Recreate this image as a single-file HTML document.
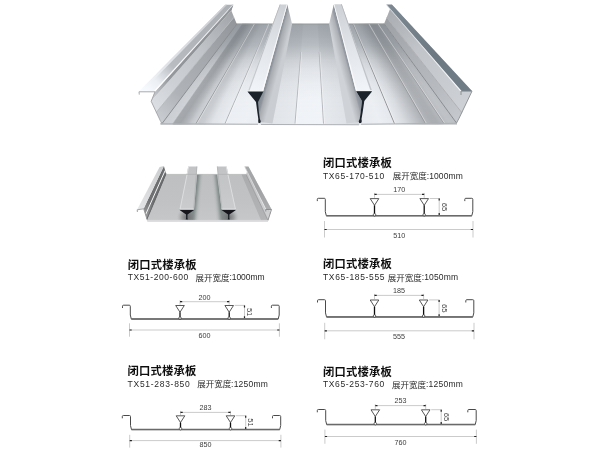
<!DOCTYPE html>
<html><head><meta charset="utf-8"><title>闭口式楼承板</title>
<style>
html,body{margin:0;padding:0;background:#fff;}
body{width:600px;height:450px;overflow:hidden;font-family:"Liberation Sans","Noto Sans CJK SC",sans-serif;}
svg{display:block;}
svg text{font-family:"Liberation Sans","Noto Sans CJK SC",sans-serif;}
</style></head><body>
<svg width="600" height="450" viewBox="0 0 600 450">
<rect width="600" height="450" fill="#fff"/>
<defs><linearGradient id="pan" x1="0" x2="1" y1="0" y2="0"><stop offset="0.0000" stop-color="#c9ccd0"/><stop offset="0.0404" stop-color="#cdd0d4"/><stop offset="0.0455" stop-color="#a3a6aa"/><stop offset="0.0673" stop-color="#a0a3a7"/><stop offset="0.0909" stop-color="#b3b6ba"/><stop offset="0.1044" stop-color="#c3c6ca"/><stop offset="0.1195" stop-color="#cdd0d4"/><stop offset="0.1246" stop-color="#c3c6ca"/><stop offset="0.1448" stop-color="#c8cbcf"/><stop offset="0.1751" stop-color="#dfe2e6"/><stop offset="0.2155" stop-color="#e7eaee"/><stop offset="0.2222" stop-color="#ebeef2"/><stop offset="0.2862" stop-color="#edf0f4"/><stop offset="0.3333" stop-color="#e9ecf0"/><stop offset="0.3401" stop-color="#dee1e5"/><stop offset="0.4512" stop-color="#e5e8ec"/><stop offset="0.4579" stop-color="#eff2f6"/><stop offset="0.5471" stop-color="#f0f3f7"/><stop offset="0.5545" stop-color="#e5e8ec"/><stop offset="0.6229" stop-color="#dfe2e6"/><stop offset="0.6700" stop-color="#d4d7db"/><stop offset="0.6768" stop-color="#e7eaee"/><stop offset="0.7407" stop-color="#ebeef2"/><stop offset="0.7845" stop-color="#e5e8ec"/><stop offset="0.7929" stop-color="#e4e7eb"/><stop offset="0.8249" stop-color="#d7dade"/><stop offset="0.8586" stop-color="#c1c4c8"/><stop offset="0.8906" stop-color="#adb0b4"/><stop offset="0.8973" stop-color="#b1b4b8"/><stop offset="0.9158" stop-color="#a9acb0"/><stop offset="0.9360" stop-color="#a9acb0"/><stop offset="0.9529" stop-color="#b1b4b8"/><stop offset="0.9579" stop-color="#b7babe"/><stop offset="0.9764" stop-color="#bdc0c4"/><stop offset="1.0000" stop-color="#bbbec2"/></linearGradient><linearGradient id="pdepth" gradientUnits="userSpaceOnUse" x1="0" y1="24" x2="0" y2="124"><stop offset="0.000" stop-color="#6b737b" stop-opacity="0.58"/><stop offset="0.100" stop-color="#6b737b" stop-opacity="0.52"/><stop offset="0.200" stop-color="#6b737b" stop-opacity="0.44"/><stop offset="0.280" stop-color="#6b737b" stop-opacity="0.32"/><stop offset="0.360" stop-color="#6b737b" stop-opacity="0.2"/><stop offset="0.460" stop-color="#6b737b" stop-opacity="0.11"/><stop offset="0.580" stop-color="#6b737b" stop-opacity="0.05"/><stop offset="0.760" stop-color="#6b737b" stop-opacity="0.0"/><stop offset="1.000" stop-color="#6b737b" stop-opacity="0.0"/></linearGradient><filter id="soft" x="-5%" y="-5%" width="110%" height="110%"><feGaussianBlur stdDeviation="0.5"/></filter><linearGradient id="rs1" gradientUnits="userSpaceOnUse" x1="270" y1="60" x2="281" y2="63"><stop offset="0" stop-color="#848a92"/><stop offset="0.28" stop-color="#90969e"/><stop offset="0.4" stop-color="#a7aaae"/><stop offset="1" stop-color="#cacdd1"/></linearGradient><linearGradient id="rs2" gradientUnits="userSpaceOnUse" x1="350" y1="60" x2="339" y2="63"><stop offset="0" stop-color="#888e96"/><stop offset="0.28" stop-color="#959ba3"/><stop offset="0.4" stop-color="#acafb3"/><stop offset="1" stop-color="#cfd2d6"/></linearGradient><linearGradient id="g1" gradientUnits="userSpaceOnUse" x1="255.5" y1="91.0" x2="283.6" y2="4.4"><stop offset="0" stop-color="#f1f4f8"/><stop offset="0.5" stop-color="#e1e4e8"/><stop offset="1" stop-color="#cdd0d4"/></linearGradient><linearGradient id="g2" gradientUnits="userSpaceOnUse" x1="248.7" y1="91.0" x2="280.1" y2="4.4"><stop offset="0" stop-color="#cacdd1"/><stop offset="1" stop-color="#b1b4b8"/></linearGradient><linearGradient id="g3" gradientUnits="userSpaceOnUse" x1="364.1" y1="90.6" x2="337.8" y2="4.2"><stop offset="0" stop-color="#f1f4f8"/><stop offset="0.5" stop-color="#e1e4e8"/><stop offset="1" stop-color="#cdd0d4"/></linearGradient><linearGradient id="g4" gradientUnits="userSpaceOnUse" x1="371.2" y1="90.6" x2="341.4" y2="4.2"><stop offset="0" stop-color="#c5c8cc"/><stop offset="1" stop-color="#b1b4b8"/></linearGradient><linearGradient id="g5" gradientUnits="userSpaceOnUse" x1="159.2" y1="117.9" x2="235.4" y2="20.7"><stop offset="0" stop-color="#c8cbcf"/><stop offset="0.25" stop-color="#afb2b6"/><stop offset="0.6" stop-color="#a5a8ac"/><stop offset="1" stop-color="#93969a"/></linearGradient><linearGradient id="g6" gradientUnits="userSpaceOnUse" x1="153.7" y1="106.8" x2="232.6" y2="13.9"><stop offset="0" stop-color="#dbdee2"/><stop offset="0.25" stop-color="#cdd0d4"/><stop offset="0.6" stop-color="#c1c4c8"/><stop offset="1" stop-color="#a2a5a9"/></linearGradient><linearGradient id="g7" gradientUnits="userSpaceOnUse" x1="153.0" y1="96.4" x2="232.3" y2="7.7"><stop offset="0" stop-color="#c5c8cc"/><stop offset="0.2" stop-color="#95989c"/><stop offset="0.6" stop-color="#8f9296"/><stop offset="1" stop-color="#93969a"/></linearGradient><linearGradient id="g8" gradientUnits="userSpaceOnUse" x1="147.0" y1="91.6" x2="229.3" y2="4.8"><stop offset="0" stop-color="#f7fafe"/><stop offset="0.12" stop-color="#ebeef2"/><stop offset="0.3" stop-color="#b9bcc0"/><stop offset="0.6" stop-color="#b1b4b8"/><stop offset="1" stop-color="#adb0b4"/></linearGradient><linearGradient id="g9" gradientUnits="userSpaceOnUse" x1="140.8" y1="91.6" x2="226.2" y2="4.8"><stop offset="0" stop-color="#f9fcff"/><stop offset="0.3" stop-color="#e1e4e8"/><stop offset="1" stop-color="#cacdd1"/></linearGradient><linearGradient id="g10" gradientUnits="userSpaceOnUse" x1="154.3" y1="91.6" x2="232.9" y2="4.8"><stop offset="0" stop-color="#ffffff"/><stop offset="1" stop-color="#e8ebef"/></linearGradient><linearGradient id="g11" gradientUnits="userSpaceOnUse" x1="459.1" y1="117.8" x2="385.4" y2="20.6"><stop offset="0" stop-color="#c5c8cc"/><stop offset="0.3" stop-color="#b7babe"/><stop offset="0.6" stop-color="#afb2b6"/><stop offset="1" stop-color="#9da0a4"/></linearGradient><linearGradient id="g12" gradientUnits="userSpaceOnUse" x1="466.9" y1="101.8" x2="389.2" y2="10.9"><stop offset="0" stop-color="#cdd0d4"/><stop offset="0.3" stop-color="#c7cace"/><stop offset="0.6" stop-color="#c1c4c8"/><stop offset="1" stop-color="#a9acb0"/></linearGradient><linearGradient id="g13" gradientUnits="userSpaceOnUse" x1="466.5" y1="91.0" x2="389.1" y2="4.4"><stop offset="0" stop-color="#707c86"/><stop offset="0.4" stop-color="#6c7882"/><stop offset="1" stop-color="#7c8892"/></linearGradient><linearGradient id="g14" gradientUnits="userSpaceOnUse" x1="460.8" y1="91.0" x2="386.2" y2="4.4"><stop offset="0" stop-color="#f8f9fa"/><stop offset="1" stop-color="#dee1e5"/></linearGradient></defs><g filter="url(#soft)"><rect x="235.80" y="23.45" width="148.50" height="1.6" fill="url(#pan)"/><rect x="235.04" y="24.45" width="149.98" height="1.6" fill="url(#pan)"/><rect x="234.28" y="25.44" width="151.47" height="1.6" fill="url(#pan)"/><rect x="233.53" y="26.44" width="152.95" height="1.6" fill="url(#pan)"/><rect x="232.77" y="27.43" width="154.44" height="1.6" fill="url(#pan)"/><rect x="232.01" y="28.43" width="155.92" height="1.6" fill="url(#pan)"/><rect x="231.25" y="29.43" width="157.41" height="1.6" fill="url(#pan)"/><rect x="230.49" y="30.42" width="158.90" height="1.6" fill="url(#pan)"/><rect x="229.74" y="31.42" width="160.38" height="1.6" fill="url(#pan)"/><rect x="228.98" y="32.41" width="161.87" height="1.6" fill="url(#pan)"/><rect x="228.22" y="33.41" width="163.35" height="1.6" fill="url(#pan)"/><rect x="227.46" y="34.41" width="164.84" height="1.6" fill="url(#pan)"/><rect x="226.70" y="35.40" width="166.32" height="1.6" fill="url(#pan)"/><rect x="225.95" y="36.40" width="167.81" height="1.6" fill="url(#pan)"/><rect x="225.19" y="37.39" width="169.29" height="1.6" fill="url(#pan)"/><rect x="224.43" y="38.39" width="170.77" height="1.6" fill="url(#pan)"/><rect x="223.67" y="39.39" width="172.26" height="1.6" fill="url(#pan)"/><rect x="222.91" y="40.38" width="173.74" height="1.6" fill="url(#pan)"/><rect x="222.16" y="41.38" width="175.23" height="1.6" fill="url(#pan)"/><rect x="221.40" y="42.37" width="176.72" height="1.6" fill="url(#pan)"/><rect x="220.64" y="43.37" width="178.20" height="1.6" fill="url(#pan)"/><rect x="219.88" y="44.37" width="179.69" height="1.6" fill="url(#pan)"/><rect x="219.12" y="45.36" width="181.17" height="1.6" fill="url(#pan)"/><rect x="218.37" y="46.36" width="182.66" height="1.6" fill="url(#pan)"/><rect x="217.61" y="47.35" width="184.14" height="1.6" fill="url(#pan)"/><rect x="216.85" y="48.35" width="185.62" height="1.6" fill="url(#pan)"/><rect x="216.09" y="49.35" width="187.11" height="1.6" fill="url(#pan)"/><rect x="215.33" y="50.34" width="188.60" height="1.6" fill="url(#pan)"/><rect x="214.58" y="51.34" width="190.08" height="1.6" fill="url(#pan)"/><rect x="213.82" y="52.33" width="191.57" height="1.6" fill="url(#pan)"/><rect x="213.06" y="53.33" width="193.05" height="1.6" fill="url(#pan)"/><rect x="212.30" y="54.33" width="194.53" height="1.6" fill="url(#pan)"/><rect x="211.54" y="55.32" width="196.02" height="1.6" fill="url(#pan)"/><rect x="210.79" y="56.32" width="197.50" height="1.6" fill="url(#pan)"/><rect x="210.03" y="57.31" width="198.99" height="1.6" fill="url(#pan)"/><rect x="209.27" y="58.31" width="200.47" height="1.6" fill="url(#pan)"/><rect x="208.51" y="59.31" width="201.96" height="1.6" fill="url(#pan)"/><rect x="207.75" y="60.30" width="203.44" height="1.6" fill="url(#pan)"/><rect x="207.00" y="61.30" width="204.93" height="1.6" fill="url(#pan)"/><rect x="206.24" y="62.29" width="206.42" height="1.6" fill="url(#pan)"/><rect x="205.48" y="63.29" width="207.90" height="1.6" fill="url(#pan)"/><rect x="204.72" y="64.29" width="209.39" height="1.6" fill="url(#pan)"/><rect x="203.96" y="65.28" width="210.87" height="1.6" fill="url(#pan)"/><rect x="203.21" y="66.28" width="212.36" height="1.6" fill="url(#pan)"/><rect x="202.45" y="67.27" width="213.84" height="1.6" fill="url(#pan)"/><rect x="201.69" y="68.27" width="215.32" height="1.6" fill="url(#pan)"/><rect x="200.93" y="69.27" width="216.81" height="1.6" fill="url(#pan)"/><rect x="200.17" y="70.26" width="218.29" height="1.6" fill="url(#pan)"/><rect x="199.42" y="71.26" width="219.78" height="1.6" fill="url(#pan)"/><rect x="198.66" y="72.25" width="221.26" height="1.6" fill="url(#pan)"/><rect x="197.90" y="73.25" width="222.75" height="1.6" fill="url(#pan)"/><rect x="197.14" y="74.25" width="224.24" height="1.6" fill="url(#pan)"/><rect x="196.38" y="75.24" width="225.72" height="1.6" fill="url(#pan)"/><rect x="195.63" y="76.24" width="227.20" height="1.6" fill="url(#pan)"/><rect x="194.87" y="77.23" width="228.69" height="1.6" fill="url(#pan)"/><rect x="194.11" y="78.23" width="230.18" height="1.6" fill="url(#pan)"/><rect x="193.35" y="79.23" width="231.66" height="1.6" fill="url(#pan)"/><rect x="192.59" y="80.22" width="233.15" height="1.6" fill="url(#pan)"/><rect x="191.84" y="81.22" width="234.63" height="1.6" fill="url(#pan)"/><rect x="191.08" y="82.21" width="236.11" height="1.6" fill="url(#pan)"/><rect x="190.32" y="83.21" width="237.60" height="1.6" fill="url(#pan)"/><rect x="189.56" y="84.21" width="239.08" height="1.6" fill="url(#pan)"/><rect x="188.80" y="85.20" width="240.57" height="1.6" fill="url(#pan)"/><rect x="188.05" y="86.20" width="242.05" height="1.6" fill="url(#pan)"/><rect x="187.29" y="87.19" width="243.54" height="1.6" fill="url(#pan)"/><rect x="186.53" y="88.19" width="245.03" height="1.6" fill="url(#pan)"/><rect x="185.77" y="89.19" width="246.51" height="1.6" fill="url(#pan)"/><rect x="185.01" y="90.18" width="248.00" height="1.6" fill="url(#pan)"/><rect x="184.26" y="91.18" width="249.48" height="1.6" fill="url(#pan)"/><rect x="183.50" y="92.17" width="250.97" height="1.6" fill="url(#pan)"/><rect x="182.74" y="93.17" width="252.45" height="1.6" fill="url(#pan)"/><rect x="181.98" y="94.17" width="253.94" height="1.6" fill="url(#pan)"/><rect x="181.22" y="95.16" width="255.42" height="1.6" fill="url(#pan)"/><rect x="180.47" y="96.16" width="256.90" height="1.6" fill="url(#pan)"/><rect x="179.71" y="97.15" width="258.39" height="1.6" fill="url(#pan)"/><rect x="178.95" y="98.15" width="259.88" height="1.6" fill="url(#pan)"/><rect x="178.19" y="99.15" width="261.36" height="1.6" fill="url(#pan)"/><rect x="177.43" y="100.14" width="262.85" height="1.6" fill="url(#pan)"/><rect x="176.68" y="101.14" width="264.33" height="1.6" fill="url(#pan)"/><rect x="175.92" y="102.13" width="265.81" height="1.6" fill="url(#pan)"/><rect x="175.16" y="103.13" width="267.30" height="1.6" fill="url(#pan)"/><rect x="174.40" y="104.13" width="268.78" height="1.6" fill="url(#pan)"/><rect x="173.64" y="105.12" width="270.27" height="1.6" fill="url(#pan)"/><rect x="172.89" y="106.12" width="271.75" height="1.6" fill="url(#pan)"/><rect x="172.13" y="107.11" width="273.24" height="1.6" fill="url(#pan)"/><rect x="171.37" y="108.11" width="274.73" height="1.6" fill="url(#pan)"/><rect x="170.61" y="109.11" width="276.21" height="1.6" fill="url(#pan)"/><rect x="169.85" y="110.10" width="277.69" height="1.6" fill="url(#pan)"/><rect x="169.10" y="111.10" width="279.18" height="1.6" fill="url(#pan)"/><rect x="168.34" y="112.09" width="280.66" height="1.6" fill="url(#pan)"/><rect x="167.58" y="113.09" width="282.15" height="1.6" fill="url(#pan)"/><rect x="166.82" y="114.09" width="283.63" height="1.6" fill="url(#pan)"/><rect x="166.06" y="115.08" width="285.12" height="1.6" fill="url(#pan)"/><rect x="165.31" y="116.08" width="286.61" height="1.6" fill="url(#pan)"/><rect x="164.55" y="117.07" width="288.09" height="1.6" fill="url(#pan)"/><rect x="163.79" y="118.07" width="289.58" height="1.6" fill="url(#pan)"/><rect x="163.03" y="119.07" width="291.06" height="1.6" fill="url(#pan)"/><rect x="162.27" y="120.06" width="292.55" height="1.6" fill="url(#pan)"/><rect x="161.52" y="121.06" width="294.03" height="1.6" fill="url(#pan)"/><rect x="160.76" y="122.05" width="295.52" height="1.6" fill="url(#pan)"/><rect x="160.00" y="123.05" width="297.00" height="1.6" fill="url(#pan)"/><polygon points="160.0,124.6 457.0,124.6 384.3,24.1 235.8,24.1" fill="url(#pdepth)"/><path d="M235.8,24.0 L384.3,24.0" stroke="#93969a" stroke-width="0.9"/><path d="M196.0,123.6 L253.8,24.1" stroke="#93969a" stroke-width="0.9" stroke-opacity="1" fill="none"/><path d="M197.0,123.6 L254.3,24.1" stroke="#ffffff" stroke-width="0.7" stroke-opacity="0.55" fill="none"/><path d="M225.0,123.6 L268.3,24.1" stroke="#a2a5a9" stroke-width="0.8" stroke-opacity="1" fill="none"/><path d="M226.0,123.6 L268.8,24.1" stroke="#ffffff" stroke-width="0.7" stroke-opacity="0.55" fill="none"/><path d="M295.0,123.6 L301.0,51.9" stroke="#a7aaae" stroke-width="0.8" stroke-opacity="1" fill="none"/><path d="M296.0,123.6 L301.6,51.9" stroke="#ffffff" stroke-width="0.7" stroke-opacity="0.55" fill="none"/><path d="M323.5,123.6 L319.2,51.9" stroke="#a7aaae" stroke-width="0.8" stroke-opacity="1" fill="none"/><path d="M324.5,123.6 L319.9,51.9" stroke="#ffffff" stroke-width="0.7" stroke-opacity="0.55" fill="none"/><path d="M394.5,123.6 L353.1,24.1" stroke="#84878b" stroke-width="0.9" stroke-opacity="1" fill="none"/><path d="M395.5,123.6 L353.6,24.1" stroke="#ffffff" stroke-width="0.7" stroke-opacity="0.55" fill="none"/><path d="M425.5,123.6 L368.6,24.1" stroke="#93969a" stroke-width="0.9" stroke-opacity="1" fill="none"/><path d="M426.5,123.6 L369.1,24.1" stroke="#ffffff" stroke-width="0.7" stroke-opacity="0.55" fill="none"/><path d="M444.0,123.6 L377.8,24.1" stroke="#93969a" stroke-width="0.8" stroke-opacity="1" fill="none"/><path d="M445.0,123.6 L378.3,24.1" stroke="#ffffff" stroke-width="0.7" stroke-opacity="0.55" fill="none"/><polygon points="263.0,91.3 287.3,4.6 292.1,24.1 272.5,123.6 259.8,122.1 256.5,100.5" fill="url(#rs1)"/><polygon points="356.0,91.3 333.8,4.6 329.1,24.1 346.5,123.6 359.7,122.1 362.0,101.0" fill="url(#rs2)"/><polygon points="248.0,91.0 263.0,91.0 287.3,4.4 279.8,4.4" fill="url(#g1)"/><polygon points="248.0,91.0 249.4,91.0 280.5,4.4 279.8,4.4" fill="url(#g2)"/><polygon points="261.8,91.0 263.2,91.0 287.4,4.4 286.7,4.4" fill="#fbfbfc"/><polygon points="356.3,90.6 371.8,90.6 341.7,4.2 334.0,4.2" fill="url(#g3)"/><polygon points="370.4,90.6 372.0,90.6 341.8,4.2 341.0,4.2" fill="url(#g4)"/><polygon points="355.8,90.6 357.2,90.6 334.4,4.2 333.7,4.2" fill="#fbfbfc"/><polygon points="247.6,91.3 263.4,91.3 263.0,92.3 258.0,102.0 258.9,112.0 259.9,119.0 260.8,121.2 260.3,123.0 258.5,123.0 258.2,121.2 258.3,119.0 257.3,112.0 256.0,102.0 248.0,92.3" fill="#1a222a"/><polygon points="356.2,91.1 372.0,91.1 371.6,92.1 364.3,101.0 362.7,112.0 361.5,119.0 361.8,121.2 361.2,123.0 359.2,123.0 358.7,121.2 359.7,119.0 360.7,112.0 362.0,101.0 356.6,92.1" fill="#1a222a"/><path d="M247.6,90.9 L263.4,90.9" stroke="#f4f5f6" stroke-width="0.9"/><path d="M356.2,90.7 L372,90.7" stroke="#f4f5f6" stroke-width="0.9"/><polygon points="156.3,112.3 162.0,123.6 236.8,24.1 234.0,17.2" fill="url(#g5)"/><polygon points="151.0,101.3 156.3,112.3 234.0,17.2 231.3,10.6" fill="url(#g6)"/><path d="M156.3,112.3 L234.0,17.2" stroke="#afb2b6" stroke-width="0.8" stroke-opacity="1" fill="none"/><path d="M162.0,123.6 L236.8,24.1" stroke="#8b8e92" stroke-width="1.0" stroke-opacity="1" fill="none"/><polygon points="155.0,91.6 151.0,101.3 231.3,10.6 233.3,4.8" fill="url(#g7)"/><polygon points="225.8,5.4 233.3,4.8 231.3,10.6 228.3,11.6 226.8,8.8" fill="#8f9296"/><polygon points="139.0,91.6 155.0,91.6 233.3,4.8 225.3,4.8" fill="url(#g8)"/><polygon points="139.0,91.6 142.5,91.6 227.1,4.8 225.3,4.8" fill="url(#g9)"/><polygon points="153.4,91.6 155.2,91.6 233.4,4.8 232.5,4.8" fill="url(#g10)"/><path d="M139.3,94.6 L139,91.8 L155,91.8 L151.2,101.3 L160.6,121.3 L162,123.6" fill="none" stroke="#9fa2a6" stroke-width="0.9" stroke-linejoin="round"/><polygon points="461.8,112.6 456.5,123.0 384.1,23.7 386.7,17.4" fill="url(#g11)"/><polygon points="472.0,91.0 461.8,112.6 386.7,17.4 391.8,4.4" fill="url(#g12)"/><path d="M461.8,112.6 L386.7,17.4" stroke="#a9acb0" stroke-width="0.9" stroke-opacity="1" fill="none"/><path d="M456.5,123.0 L384.1,23.7" stroke="#898c90" stroke-width="1.0" stroke-opacity="1" fill="none"/><polygon points="461.0,91.0 472.0,91.0 391.8,4.4 386.3,4.4" fill="url(#g13)"/><polygon points="460.0,91.0 461.6,91.0 386.6,4.4 385.8,4.4" fill="url(#g14)"/><path d="M461,95 L461,91.2 L472,91.2 L459.2,118 L456.5,123.0" fill="none" stroke="#898c90" stroke-width="0.9" stroke-linejoin="round"/><path d="M161,123.89999999999999 L258,124.19999999999999 M261,124.5 L359,124.8 M361,124.19999999999999 L457,123.3" stroke="#adb0b4" stroke-width="1.1" fill="none"/></g><defs><linearGradient id="g15" gradientUnits="userSpaceOnUse" x1="207.7" y1="220.3" x2="206.2" y2="174.4"><stop offset="0" stop-color="#c6c7c9"/><stop offset="0.4" stop-color="#c1c2c4"/><stop offset="1" stop-color="#bebfc1"/></linearGradient><linearGradient id="g16" gradientUnits="userSpaceOnUse" x1="195.6" y1="191.8" x2="202.6" y2="192.6"><stop offset="0" stop-color="#7a8383"/><stop offset="0.25" stop-color="#939a9a"/><stop offset="0.6" stop-color="#b2b6b6" stop-opacity="0.7"/><stop offset="1" stop-color="#c1c2c4" stop-opacity="0"/></linearGradient><radialGradient id="g17" gradientUnits="userSpaceOnUse" cx="186.8" cy="217.3" r="10"><stop offset="0" stop-color="#68696b" stop-opacity="0.95"/><stop offset="0.5" stop-color="#818284" stop-opacity="0.6"/><stop offset="1" stop-color="#a9aaac" stop-opacity="0"/></radialGradient><linearGradient id="g18" gradientUnits="userSpaceOnUse" x1="0" y1="209.1" x2="0" y2="166.5"><stop offset="0" stop-color="#cbccce"/><stop offset="0.5" stop-color="#c5c6c8"/><stop offset="1" stop-color="#c2c3c5"/></linearGradient><linearGradient id="g19" gradientUnits="userSpaceOnUse" x1="219.3" y1="191.8" x2="212.3" y2="192.6"><stop offset="0" stop-color="#7a8383"/><stop offset="0.25" stop-color="#939a9a"/><stop offset="0.6" stop-color="#b2b6b6" stop-opacity="0.7"/><stop offset="1" stop-color="#c1c2c4" stop-opacity="0"/></linearGradient><radialGradient id="g20" gradientUnits="userSpaceOnUse" cx="228.8" cy="217.3" r="10"><stop offset="0" stop-color="#68696b" stop-opacity="0.95"/><stop offset="0.5" stop-color="#818284" stop-opacity="0.6"/><stop offset="1" stop-color="#a9aaac" stop-opacity="0"/></radialGradient><linearGradient id="g21" gradientUnits="userSpaceOnUse" x1="0" y1="209.1" x2="0" y2="166.5"><stop offset="0" stop-color="#cbccce"/><stop offset="0.5" stop-color="#c5c6c8"/><stop offset="1" stop-color="#c2c3c5"/></linearGradient><linearGradient id="g22" gradientUnits="userSpaceOnUse" x1="145.5" y1="214.4" x2="165.1" y2="170.3"><stop offset="0" stop-color="#959698"/><stop offset="0.3" stop-color="#6f7072"/><stop offset="1" stop-color="#6b6c6e"/></linearGradient><linearGradient id="g23" gradientUnits="userSpaceOnUse" x1="140.4" y1="209.1" x2="161.8" y2="166.5"><stop offset="0" stop-color="#e3e4e6"/><stop offset="0.5" stop-color="#d7d8da"/><stop offset="1" stop-color="#cdced0"/></linearGradient><linearGradient id="g24" gradientUnits="userSpaceOnUse" x1="264.5" y1="220.3" x2="243.8" y2="174.4"><stop offset="0" stop-color="#b3b4b6"/><stop offset="1" stop-color="#abacae"/></linearGradient><linearGradient id="g25" gradientUnits="userSpaceOnUse" x1="269.1" y1="216.9" x2="246.8" y2="172.0"><stop offset="0" stop-color="#cfd0d2"/><stop offset="1" stop-color="#c3c4c6"/></linearGradient><linearGradient id="g26" gradientUnits="userSpaceOnUse" x1="270.9" y1="211.4" x2="248.0" y2="168.1"><stop offset="0" stop-color="#d9dadc"/><stop offset="1" stop-color="#cdced0"/></linearGradient><linearGradient id="g27" gradientUnits="userSpaceOnUse" x1="268.6" y1="209.3" x2="246.5" y2="166.6"><stop offset="0" stop-color="#abacae"/><stop offset="0.5" stop-color="#a1a2a4"/><stop offset="1" stop-color="#a7a8aa"/></linearGradient><linearGradient id="g28" gradientUnits="userSpaceOnUse" x1="265.8" y1="209.3" x2="244.6" y2="166.6"><stop offset="0" stop-color="#e7e8ea"/><stop offset="1" stop-color="#d7d8da"/></linearGradient></defs><g filter="url(#soft)"><polygon points="147.3,220.3 268.0,220.3 246.1,174.4 166.3,174.4" fill="url(#g15)"/><polygon points="194.0,209.1 197.2,174.4 203.2,174.4 206.0,220.3 186.8,220.3 186.8,214.1" fill="url(#g16)"/><polygon points="177.6,210.1 196.0,210.1 201.0,220.3 172.6,220.3" fill="url(#g17)"/><polygon points="179.6,209.1 194.0,209.1 197.2,166.5 188.3,166.5" fill="url(#g18)"/><path d="M180.1,209.1 L188.70000000000002,166.5" stroke="#dddee0" stroke-width="1" fill="none"/><path d="M193.7,209.1 L196.89999999999998,166.5" stroke="#b1b2b4" stroke-width="0.8" fill="none"/><polygon points="179.6,209.6 194.0,209.6 193.7,210.3 187.5,214.4 187.4,218.1 187.9,219.5 185.7,219.5 186.2,218.1 186.1,214.4 179.9,210.3" fill="#14181c"/><path d="M179.6,209.2 L194.0,209.2" stroke="#ebecee" stroke-width="0.9"/><polygon points="221.6,209.1 217.0,174.4 211.0,174.4 209.6,220.3 228.8,220.3 228.8,214.1" fill="url(#g19)"/><polygon points="219.6,210.1 237.9,210.1 242.9,220.3 214.6,220.3" fill="url(#g20)"/><polygon points="221.6,209.1 235.9,209.1 226.6,166.5 217.0,166.5" fill="url(#g21)"/><path d="M235.4,209.1 L226.2,166.5" stroke="#dddee0" stroke-width="1" fill="none"/><path d="M221.9,209.1 L217.3,166.5" stroke="#b1b2b4" stroke-width="0.8" fill="none"/><polygon points="221.6,209.6 235.9,209.6 235.6,210.3 229.4,214.4 229.3,218.1 229.8,219.5 227.7,219.5 228.2,218.1 228.1,214.4 221.9,210.3" fill="#14181c"/><path d="M221.6,209.2 L235.9,209.2" stroke="#ebecee" stroke-width="0.9"/><polygon points="143.7,208.6 147.3,220.3 166.3,174.4 163.9,166.1" fill="url(#g22)"/><path d="M145.6,214.6 L165.2,170.4" stroke="#f4f5f5" stroke-width="1.0" stroke-opacity="1" fill="none"/><path d="M146.9,219.0 L166.0,173.5" stroke="#67686a" stroke-width="0.9" stroke-opacity="1" fill="none"/><polygon points="137.2,209.6 143.7,208.6 163.9,166.1 159.6,166.9" fill="url(#g23)"/><path d="M137.4,212 L137.2,209.8 L143.7,208.8 L147.3,220.3" fill="none" stroke="#8b8c8e" stroke-width="0.8"/><polygon points="261.0,220.3 268.0,220.3 246.1,174.4 241.5,174.4" fill="url(#g24)"/><polygon points="270.2,213.5 268.0,220.3 246.1,174.4 247.6,169.6" fill="url(#g25)"/><polygon points="271.5,209.3 270.2,213.5 247.6,169.6 248.4,166.6" fill="url(#g26)"/><path d="M270.2,213.5 L247.6,169.6" stroke="#b9babc" stroke-width="0.7" stroke-opacity="1" fill="none"/><path d="M268.0,220.3 L246.1,174.4" stroke="#959698" stroke-width="0.8" stroke-opacity="1" fill="none"/><polygon points="265.7,209.3 271.5,209.3 248.4,166.6 244.6,166.6" fill="url(#g27)"/><polygon points="265.3,209.3 266.3,209.3 245.0,166.6 244.3,166.6" fill="url(#g28)"/><path d="M265.8,211.5 L265.7,209.5 L271.5,209.5 L268,220.3" fill="none" stroke="#818284" stroke-width="0.8"/><path d="M147.3,220.4 L268,220.4" stroke="#e1e2e4" stroke-width="0.9"/><path d="M147.3,221.20000000000002 L268,221.20000000000002" stroke="#afb0b2" stroke-width="0.6"/><path d="M166.3,174.4 L246.1,174.4" stroke="#afb0b2" stroke-width="0.7"/></g>
<defs><filter id="tsoft" x="0" y="0" width="600" height="450" filterUnits="userSpaceOnUse"><feGaussianBlur stdDeviation="0.3"/></filter></defs>
<g filter="url(#tsoft)"><text x="323" y="166.6" font-size="11.3" font-weight="bold" fill="#111" text-anchor="start" textLength="68.7" lengthAdjust="spacing">闭口式楼承板</text><text transform="translate(323.0 178.6) scale(1.04 1)" font-size="8.2" fill="#2a2a2a" text-anchor="start" textLength="58.94" lengthAdjust="spacing">TX65-170-510</text><text x="392.8" y="179.2" font-size="8.5" fill="#2a2a2a" text-anchor="start" textLength="34" lengthAdjust="spacing">展开宽度</text><text transform="translate(426.7 178.6) scale(1.04 1)" font-size="8.2" fill="#2a2a2a" text-anchor="start" textLength="34.81" lengthAdjust="spacing">:1000mm</text><text x="323" y="268" font-size="11.3" font-weight="bold" fill="#111" text-anchor="start" textLength="68.7" lengthAdjust="spacing">闭口式楼承板</text><text transform="translate(323.0 280.0) scale(1.04 1)" font-size="8.2" fill="#2a2a2a" text-anchor="start" textLength="59.23" lengthAdjust="spacing">TX65-185-555</text><text x="387.8" y="280.6" font-size="8.5" fill="#2a2a2a" text-anchor="start" textLength="34" lengthAdjust="spacing">展开宽度</text><text transform="translate(421.7 280.0) scale(1.04 1)" font-size="8.2" fill="#2a2a2a" text-anchor="start" textLength="34.90" lengthAdjust="spacing">:1050mm</text><text x="323" y="375.5" font-size="11.3" font-weight="bold" fill="#111" text-anchor="start" textLength="68.7" lengthAdjust="spacing">闭口式楼承板</text><text transform="translate(323.0 387.0) scale(1.04 1)" font-size="8.2" fill="#2a2a2a" text-anchor="start" textLength="58.94" lengthAdjust="spacing">TX65-253-760</text><text x="392" y="387.6" font-size="8.5" fill="#2a2a2a" text-anchor="start" textLength="34" lengthAdjust="spacing">展开宽度</text><text transform="translate(425.9 387.0) scale(1.04 1)" font-size="8.2" fill="#2a2a2a" text-anchor="start" textLength="35.58" lengthAdjust="spacing">:1250mm</text><text x="127.8" y="268.5" font-size="11.3" font-weight="bold" fill="#111" text-anchor="start" textLength="68.7" lengthAdjust="spacing">闭口式楼承板</text><text transform="translate(127.8 280.4) scale(1.04 1)" font-size="8.2" fill="#2a2a2a" text-anchor="start" textLength="58.08" lengthAdjust="spacing">TX51-200-600</text><text x="195.5" y="281" font-size="8.5" fill="#2a2a2a" text-anchor="start" textLength="34" lengthAdjust="spacing">展开宽度</text><text transform="translate(229.4 280.4) scale(1.04 1)" font-size="8.2" fill="#2a2a2a" text-anchor="start" textLength="33.94" lengthAdjust="spacing">:1000mm</text><text x="127.6" y="374.8" font-size="11.3" font-weight="bold" fill="#111" text-anchor="start" textLength="68.7" lengthAdjust="spacing">闭口式楼承板</text><text transform="translate(127.6 386.8) scale(1.04 1)" font-size="8.2" fill="#2a2a2a" text-anchor="start" textLength="59.81" lengthAdjust="spacing">TX51-283-850</text><text x="197.2" y="387.4" font-size="8.5" fill="#2a2a2a" text-anchor="start" textLength="34" lengthAdjust="spacing">展开宽度</text><text transform="translate(231.1 386.8) scale(1.04 1)" font-size="8.2" fill="#2a2a2a" text-anchor="start" textLength="35.38" lengthAdjust="spacing">:1250mm</text><path d="M317.3,201.10000000000002 L317.3,199.3 Q317.3,198.3 318.3,198.3 L324.3,198.3 Q325.3,198.3 325.3,199.3 L325.3,211.7 L326.3,215.7 L471.8,215.7 L472.8,211.7 L472.8,199.3 Q472.8,198.3 471.8,198.3 L465.8,198.3 Q464.8,198.3 464.8,199.3 L464.8,201.10000000000002" fill="none" stroke="#4a4a4a" stroke-width="1" stroke-linejoin="round"/><path d="M326.3,215.7 L471.8,215.7" stroke="#6a6a6a" stroke-width="1.5"/><path d="M370.2,198.60000000000002 L378.8,198.60000000000002 L374.5,205.3 Z" fill="#fff" stroke="#3a3a3a" stroke-width="0.85" stroke-linejoin="round"/><path d="M374.5,205.3 L374.5,213.89999999999998" stroke="#111" stroke-width="1.3"/><circle cx="374.5" cy="214.79999999999998" r="1.25" fill="#fff" stroke="#222" stroke-width="0.65"/><path d="M419.9,198.60000000000002 L428.5,198.60000000000002 L424.2,205.3 Z" fill="#fff" stroke="#3a3a3a" stroke-width="0.85" stroke-linejoin="round"/><path d="M424.2,205.3 L424.2,213.89999999999998" stroke="#111" stroke-width="1.3"/><circle cx="424.2" cy="214.79999999999998" r="1.25" fill="#fff" stroke="#222" stroke-width="0.65"/><path d="M374.5,192.9 L374.5,197.8 M424.2,192.9 L424.2,197.8 M374.5,194.4 L424.2,194.4" stroke="#b5b5b5" stroke-width="0.7" fill="none"/><path d="M374.5,193.8 h2.2 v1.2 h-2.2z M424.2,193.8 h-2.2 v1.2 h2.2z" fill="#222"/><text x="399.35" y="191.8" font-size="7.2" fill="#3c3c3c" text-anchor="middle">170</text><path d="M429.7,198.5 L439.7,198.5 M439.2,198.5 L439.2,215.2" stroke="#b5b5b5" stroke-width="0.7" fill="none"/><path d="M438.59999999999997,198.5 v2 h1.2 v-2z M438.59999999999997,215.0 v-2 h1.2 v2z" fill="#222"/><text transform="translate(441.9 207.0) rotate(90)" font-size="7.6" fill="#3c3c3c" text-anchor="middle">65</text><path d="M324.5,221 L324.5,237.5 M473.0,221 L473.0,237.5 M324.5,229.5 L473.0,229.5" stroke="#b5b5b5" stroke-width="0.7" fill="none"/><path d="M324.5,228.9 h2.2 v1.2 h-2.2z M473.0,228.9 h-2.2 v1.2 h2.2z" fill="#222"/><text x="399.35" y="237.6" font-size="7.2" fill="#3c3c3c" text-anchor="middle">510</text><path d="M317.5,302.5 L317.5,300.7 Q317.5,299.7 318.5,299.7 L324.5,299.7 Q325.5,299.7 325.5,300.7 L325.5,312.9 L326.5,316.9 L472.8,316.9 L473.8,312.9 L473.8,300.7 Q473.8,299.7 472.8,299.7 L466.8,299.7 Q465.8,299.7 465.8,300.7 L465.8,302.5" fill="none" stroke="#4a4a4a" stroke-width="1" stroke-linejoin="round"/><path d="M326.5,316.9 L472.8,316.9" stroke="#6a6a6a" stroke-width="1.5"/><path d="M370.2,300.0 L378.8,300.0 L374.5,306.7 Z" fill="#fff" stroke="#3a3a3a" stroke-width="0.85" stroke-linejoin="round"/><path d="M374.5,306.7 L374.5,315.09999999999997" stroke="#111" stroke-width="1.3"/><circle cx="374.5" cy="316.0" r="1.25" fill="#fff" stroke="#222" stroke-width="0.65"/><path d="M419.3,300.0 L427.90000000000003,300.0 L423.6,306.7 Z" fill="#fff" stroke="#3a3a3a" stroke-width="0.85" stroke-linejoin="round"/><path d="M423.6,306.7 L423.6,315.09999999999997" stroke="#111" stroke-width="1.3"/><circle cx="423.6" cy="316.0" r="1.25" fill="#fff" stroke="#222" stroke-width="0.65"/><path d="M374.5,293.9 L374.5,299.2 M423.6,293.9 L423.6,299.2 M374.5,295.4 L423.6,295.4" stroke="#b5b5b5" stroke-width="0.7" fill="none"/><path d="M374.5,294.79999999999995 h2.2 v1.2 h-2.2z M423.6,294.79999999999995 h-2.2 v1.2 h2.2z" fill="#222"/><text x="399.05" y="292.79999999999995" font-size="7.2" fill="#3c3c3c" text-anchor="middle">185</text><path d="M429.1,299.9 L439.6,299.9 M439.1,299.9 L439.1,316.4" stroke="#b5b5b5" stroke-width="0.7" fill="none"/><path d="M438.5,299.9 v2 h1.2 v-2z M438.5,316.2 v-2 h1.2 v2z" fill="#222"/><text transform="translate(441.8 308.29999999999995) rotate(90)" font-size="7.6" fill="#3c3c3c" text-anchor="middle">65</text><path d="M324.7,322.8 L324.7,339.3 M474.0,322.8 L474.0,339.3 M324.7,330.8 L474.0,330.8" stroke="#b5b5b5" stroke-width="0.7" fill="none"/><path d="M324.7,330.2 h2.2 v1.2 h-2.2z M474.0,330.2 h-2.2 v1.2 h2.2z" fill="#222"/><text x="399.05" y="338.90000000000003" font-size="7.2" fill="#3c3c3c" text-anchor="middle">555</text><path d="M317.3,412.3 L317.3,410.5 Q317.3,409.5 318.3,409.5 L324.7,409.5 Q325.7,409.5 325.7,410.5 L325.7,420.6 L326.7,424.6 L475.2,424.6 L476.2,420.6 L476.2,410.5 Q476.2,409.5 475.2,409.5 L468.8,409.5 Q467.8,409.5 467.8,410.5 L467.8,412.3" fill="none" stroke="#4a4a4a" stroke-width="1" stroke-linejoin="round"/><path d="M326.7,424.6 L475.2,424.6" stroke="#6a6a6a" stroke-width="1.5"/><path d="M371.0,409.8 L379.6,409.8 L375.3,416.5 Z" fill="#fff" stroke="#3a3a3a" stroke-width="0.85" stroke-linejoin="round"/><path d="M375.3,416.5 L375.3,422.8" stroke="#111" stroke-width="1.3"/><circle cx="375.3" cy="423.70000000000005" r="1.25" fill="#fff" stroke="#222" stroke-width="0.65"/><path d="M421.4,409.8 L430.0,409.8 L425.7,416.5 Z" fill="#fff" stroke="#3a3a3a" stroke-width="0.85" stroke-linejoin="round"/><path d="M425.7,416.5 L425.7,422.8" stroke="#111" stroke-width="1.3"/><circle cx="425.7" cy="423.70000000000005" r="1.25" fill="#fff" stroke="#222" stroke-width="0.65"/><path d="M375.3,404.1 L375.3,409.0 M425.7,404.1 L425.7,409.0 M375.3,405.6 L425.7,405.6" stroke="#b5b5b5" stroke-width="0.7" fill="none"/><path d="M375.3,405.0 h2.2 v1.2 h-2.2z M425.7,405.0 h-2.2 v1.2 h2.2z" fill="#222"/><text x="400.5" y="403.0" font-size="7.2" fill="#3c3c3c" text-anchor="middle">253</text><path d="M431.2,409.7 L441.7,409.7 M441.2,409.7 L441.2,424.1" stroke="#b5b5b5" stroke-width="0.7" fill="none"/><path d="M440.59999999999997,409.7 v2 h1.2 v-2z M440.59999999999997,423.90000000000003 v-2 h1.2 v2z" fill="#222"/><text transform="translate(443.9 417.05) rotate(90)" font-size="7.6" fill="#3c3c3c" text-anchor="middle">65</text><path d="M324.9,429.6 L324.9,443.8 M476.4,429.6 L476.4,443.8 M324.9,436.5 L476.4,436.5" stroke="#b5b5b5" stroke-width="0.7" fill="none"/><path d="M324.9,435.9 h2.2 v1.2 h-2.2z M476.4,435.9 h-2.2 v1.2 h2.2z" fill="#222"/><text x="400.5" y="444.6" font-size="7.2" fill="#3c3c3c" text-anchor="middle">760</text><path d="M122.5,308.0 L122.5,306.2 Q122.5,305.2 123.5,305.2 L129.3,305.2 Q130.3,305.2 130.3,306.2 L130.3,315.0 L131.3,319.0 L278.2,319.0 L279.2,315.0 L279.2,306.2 Q279.2,305.2 278.2,305.2 L272.4,305.2 Q271.4,305.2 271.4,306.2 L271.4,308.0" fill="none" stroke="#4a4a4a" stroke-width="1" stroke-linejoin="round"/><path d="M131.3,319.0 L278.2,319.0" stroke="#6a6a6a" stroke-width="1.5"/><path d="M175.7,305.5 L184.3,305.5 L180.0,312.2 Z" fill="#fff" stroke="#3a3a3a" stroke-width="0.85" stroke-linejoin="round"/><path d="M180.0,312.2 L180.0,317.2" stroke="#111" stroke-width="1.3"/><circle cx="180.0" cy="318.1" r="1.25" fill="#fff" stroke="#222" stroke-width="0.65"/><path d="M224.89999999999998,305.5 L233.5,305.5 L229.2,312.2 Z" fill="#fff" stroke="#3a3a3a" stroke-width="0.85" stroke-linejoin="round"/><path d="M229.2,312.2 L229.2,317.2" stroke="#111" stroke-width="1.3"/><circle cx="229.2" cy="318.1" r="1.25" fill="#fff" stroke="#222" stroke-width="0.65"/><path d="M180.0,300.2 L180.0,304.7 M229.2,300.2 L229.2,304.7 M180.0,301.7 L229.2,301.7" stroke="#b5b5b5" stroke-width="0.7" fill="none"/><path d="M180.0,301.09999999999997 h2.2 v1.2 h-2.2z M229.2,301.09999999999997 h-2.2 v1.2 h2.2z" fill="#222"/><text x="204.6" y="300.0" font-size="7.2" fill="#3c3c3c" text-anchor="middle">200</text><path d="M234.7,305.4 L245.0,305.4 M244.5,305.4 L244.5,318.5" stroke="#b5b5b5" stroke-width="0.7" fill="none"/><path d="M243.9,305.4 v2 h1.2 v-2z M243.9,318.3 v-2 h1.2 v2z" fill="#222"/><text transform="translate(247.2 312.1) rotate(90)" font-size="7.6" fill="#3c3c3c" text-anchor="middle">51</text><path d="M129.5,323.3 L129.5,336.7 M279.4,323.3 L279.4,336.7 M129.5,330.0 L279.4,330.0" stroke="#b5b5b5" stroke-width="0.7" fill="none"/><path d="M129.5,329.4 h2.2 v1.2 h-2.2z M279.4,329.4 h-2.2 v1.2 h2.2z" fill="#222"/><text x="204.6" y="338.1" font-size="7.2" fill="#3c3c3c" text-anchor="middle">600</text><path d="M122.3,418.3 L122.3,416.5 Q122.3,415.5 123.3,415.5 L129.5,415.5 Q130.5,415.5 130.5,416.5 L130.5,425.6 L131.5,429.6 L279.7,429.6 L280.7,425.6 L280.7,416.5 Q280.7,415.5 279.7,415.5 L273.5,415.5 Q272.5,415.5 272.5,416.5 L272.5,418.3" fill="none" stroke="#4a4a4a" stroke-width="1" stroke-linejoin="round"/><path d="M131.5,429.6 L279.7,429.6" stroke="#6a6a6a" stroke-width="1.5"/><path d="M176.2,415.8 L184.8,415.8 L180.5,422.5 Z" fill="#fff" stroke="#3a3a3a" stroke-width="0.85" stroke-linejoin="round"/><path d="M180.5,422.5 L180.5,427.8" stroke="#111" stroke-width="1.3"/><circle cx="180.5" cy="428.70000000000005" r="1.25" fill="#fff" stroke="#222" stroke-width="0.65"/><path d="M226.2,415.8 L234.8,415.8 L230.5,422.5 Z" fill="#fff" stroke="#3a3a3a" stroke-width="0.85" stroke-linejoin="round"/><path d="M230.5,422.5 L230.5,427.8" stroke="#111" stroke-width="1.3"/><circle cx="230.5" cy="428.70000000000005" r="1.25" fill="#fff" stroke="#222" stroke-width="0.65"/><path d="M180.5,410.9 L180.5,415.0 M230.5,410.9 L230.5,415.0 M180.5,412.4 L230.5,412.4" stroke="#b5b5b5" stroke-width="0.7" fill="none"/><path d="M180.5,411.79999999999995 h2.2 v1.2 h-2.2z M230.5,411.79999999999995 h-2.2 v1.2 h2.2z" fill="#222"/><text x="205.5" y="409.79999999999995" font-size="7.2" fill="#3c3c3c" text-anchor="middle">283</text><path d="M236.0,415.7 L246.2,415.7 M245.7,415.7 L245.7,429.1" stroke="#b5b5b5" stroke-width="0.7" fill="none"/><path d="M245.1,415.7 v2 h1.2 v-2z M245.1,428.90000000000003 v-2 h1.2 v2z" fill="#222"/><text transform="translate(248.39999999999998 422.55) rotate(90)" font-size="7.6" fill="#3c3c3c" text-anchor="middle">51</text><path d="M129.7,434.8 L129.7,447.6 M280.9,434.8 L280.9,447.6 M129.7,440.6 L280.9,440.6" stroke="#b5b5b5" stroke-width="0.7" fill="none"/><path d="M129.7,440.0 h2.2 v1.2 h-2.2z M280.9,440.0 h-2.2 v1.2 h2.2z" fill="#222"/><text x="205.5" y="446.6" font-size="7.2" fill="#3c3c3c" text-anchor="middle">850</text></g>
</svg>
</body></html>
